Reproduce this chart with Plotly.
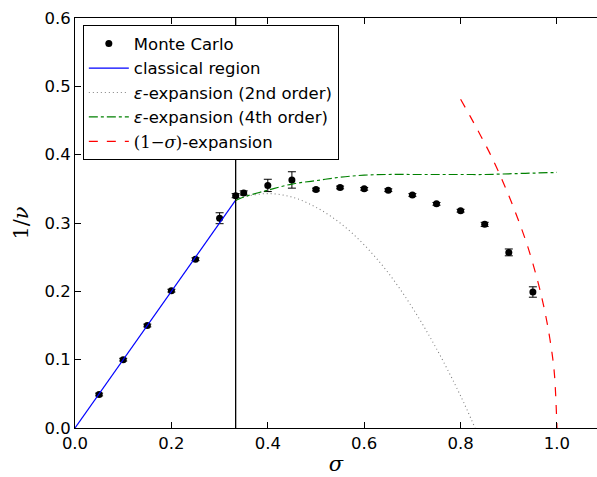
import plotly.graph_objects as go

# Monte Carlo estimates of 1/nu with statistical errors
mc_sigma = [0.05, 0.10, 0.15, 0.20, 0.25, 0.30, 1/3, 0.35, 0.40, 0.45,
            0.50, 0.55, 0.60, 0.65, 0.70, 0.75, 0.80, 0.85, 0.90, 0.95]
mc_inv_nu = [0.049, 0.100, 0.150, 0.201, 0.247, 0.307, 0.340, 0.344, 0.355, 0.363,
             0.349, 0.352, 0.350, 0.348, 0.341, 0.328, 0.318, 0.298, 0.257, 0.199]
mc_err = [0.002, 0.002, 0.002, 0.002, 0.002, 0.008, 0.003, 0.003, 0.009, 0.012,
          0.002, 0.002, 0.002, 0.002, 0.002, 0.002, 0.002, 0.003, 0.005, 0.0076]

# mean-field (classical) region: 1/nu = sigma
sigma_c = 1/3
classical_sigma = [0.0, sigma_c]
classical_inv_nu = [0.0, sigma_c]

# epsilon-expansion, second order
eps2_sigma = [sigma_c, 0.35, 0.40, 0.45, 0.50, 0.55, 0.60, 0.65, 0.70, 0.75, 0.80, 0.83]
eps2_inv_nu = [0.333, 0.338, 0.343, 0.338, 0.323, 0.300, 0.268, 0.227, 0.176, 0.116, 0.047, 0.0]

# epsilon-expansion, fourth order
eps4_sigma = [sigma_c, 0.35, 0.40, 0.45, 0.50, 0.55, 0.60, 0.65, 0.70, 0.75,
              0.80, 0.85, 0.90, 0.95, 1.00]
eps4_inv_nu = [0.333, 0.338, 0.348, 0.357, 0.362, 0.367, 0.370, 0.371, 0.371, 0.371,
               0.371, 0.371, 0.372, 0.373, 0.374]

# expansion around sigma = 1
one_sigma = [0.80, 0.82, 0.84, 0.86, 0.88, 0.90, 0.92, 0.94, 0.96, 0.97,
             0.98, 0.99, 0.995, 1.00]
one_inv_nu = [0.481, 0.456, 0.430, 0.403, 0.373, 0.340, 0.304, 0.264, 0.215, 0.186,
              0.152, 0.108, 0.076, 0.0]

x_ticks = [0.0, 0.2, 0.4, 0.6, 0.8, 1.0]
y_ticks = [0.0, 0.1, 0.2, 0.3, 0.4, 0.5, 0.6]

fig = go.Figure()

fig.add_trace(go.Scatter(
    x=mc_sigma, y=mc_inv_nu, mode="markers", name="Monte Carlo",
    marker=dict(color="black", size=7),
    error_y=dict(type="data", array=mc_err, color="black", thickness=1, width=4),
))
fig.add_trace(go.Scatter(
    x=classical_sigma, y=classical_inv_nu, mode="lines", name="classical region",
    line=dict(color="blue", width=1.2),
))
fig.add_trace(go.Scatter(
    x=eps2_sigma, y=eps2_inv_nu, mode="lines", name="<i>ε</i>-expansion (2nd order)",
    line=dict(color="gray", width=1.1, dash="1px,3px", shape="spline"),
))
fig.add_trace(go.Scatter(
    x=eps4_sigma, y=eps4_inv_nu, mode="lines", name="<i>ε</i>-expansion (4th order)",
    line=dict(color="green", width=1.2, dash="dashdot", shape="spline"),
))
fig.add_trace(go.Scatter(
    x=one_sigma, y=one_inv_nu, mode="lines",
    name="<span style='font-family:DejaVu Serif'>(1−<i>σ</i>)</span>-expansion",
    line=dict(color="red", width=1.2, dash="dash", shape="spline"),
))

fig.add_vline(x=sigma_c, line=dict(color="black", width=1.3))

fig.update_layout(
    width=597, height=477,
    margin=dict(l=75, r=0, t=18, b=49),
    plot_bgcolor="white", paper_bgcolor="white",
    font=dict(family="DejaVu Sans", size=16.5, color="black"),
    showlegend=True,
    legend=dict(
        x=0.015, y=0.982, xanchor="left", yanchor="top",
        bordercolor="black", borderwidth=1, bgcolor="white",
        font=dict(size=16.5), tracegroupgap=0, itemwidth=40,
    ),
)
fig.update_xaxes(
    range=[0, 1.083], tickvals=x_ticks, tickformat=".1f",
    ticks="inside", ticklen=6, tickcolor="black",
    showline=True, linecolor="black", linewidth=1, mirror="ticks",
    showgrid=False, zeroline=False,
    title=dict(text="<i>σ</i>", font=dict(family="DejaVu Serif", size=21), standoff=4),
)
fig.update_yaxes(
    range=[0, 0.6], tickvals=y_ticks, tickformat=".1f",
    ticks="inside", ticklen=6, tickcolor="black",
    showline=True, linecolor="black", linewidth=1,
    showgrid=False, zeroline=False,
    title=dict(text="1/<i>ν</i>", font=dict(family="DejaVu Serif", size=21), standoff=10),
)

fig.write_html("out.html")
